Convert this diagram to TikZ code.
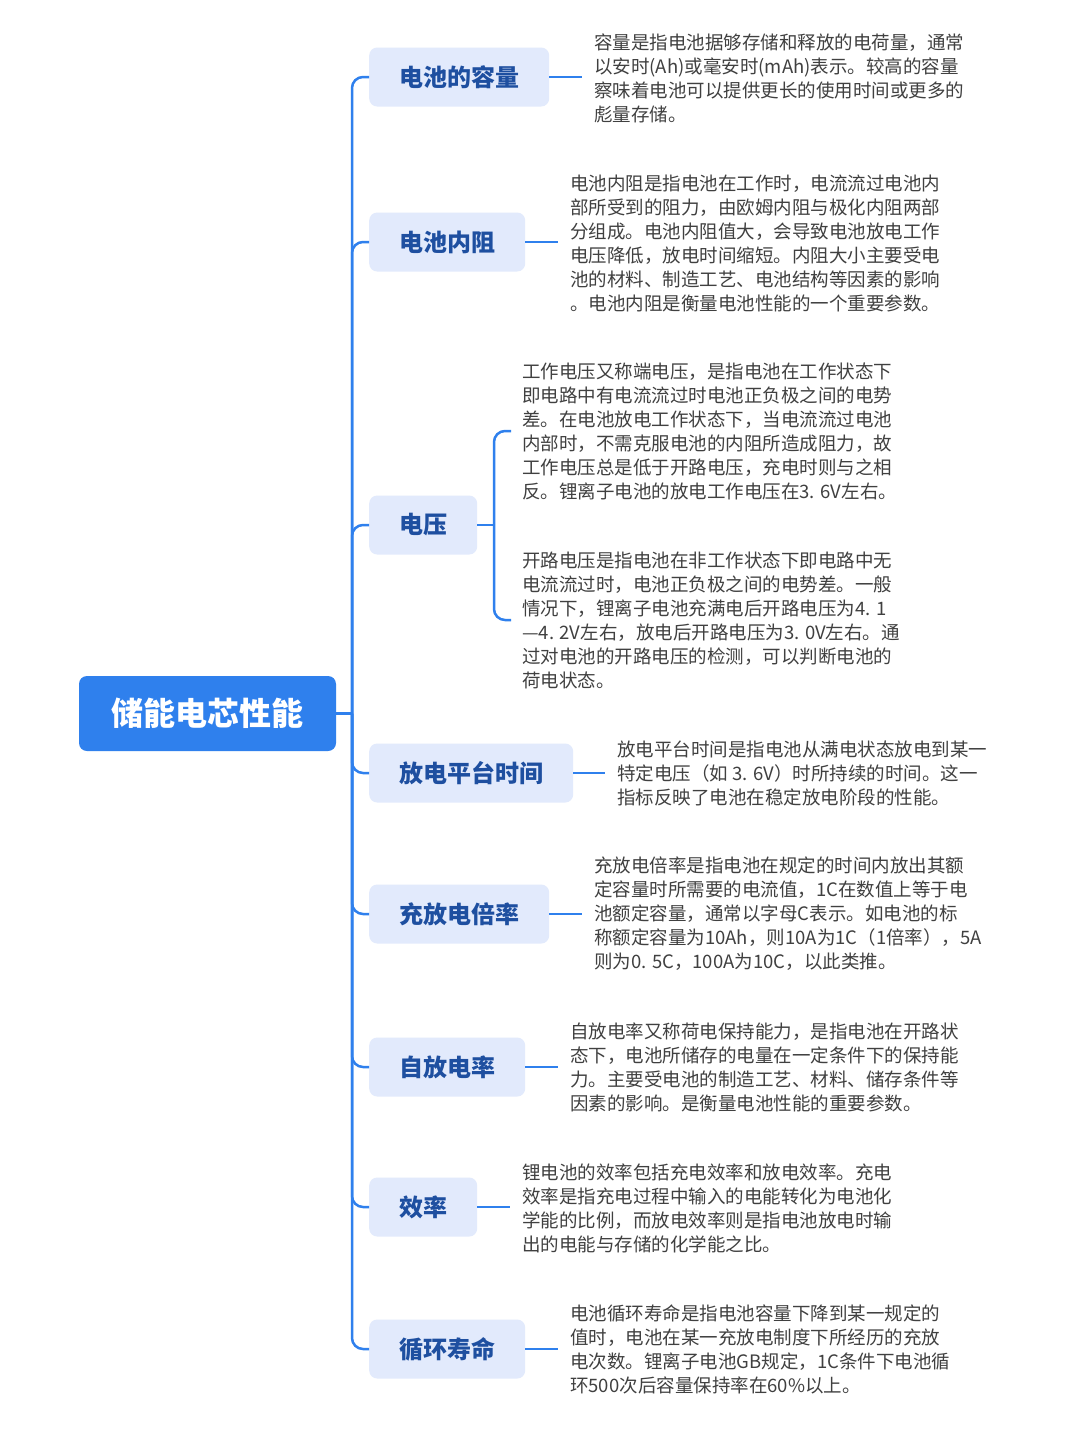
\documentclass[tikz,border=0pt]{standalone}
\usepackage{fontspec}
\setmainfont{Noto Sans CJK SC}
\definecolor{lineblue}{HTML}{2F80ED}
\definecolor{rootblue}{HTML}{2F80ED}
\definecolor{boxfill}{HTML}{E2EAFC}
\definecolor{boxtext}{HTML}{1E4FA0}
\definecolor{desc}{HTML}{404040}
\tikzset{
  rootbox/.style={fill=rootblue, rounded corners=8pt, minimum width=257pt, minimum height=75pt, text=white, font=\fontsize{32}{36}\selectfont\bfseries, inner sep=0pt},
  branchbox/.style={fill=boxfill, rounded corners=8pt, minimum height=59pt, inner xsep=30pt, inner ysep=0pt, text=boxtext, font=\fontsize{24}{28}\selectfont\bfseries, anchor=west},
  desctext/.style={anchor=west, align=left, inner sep=0pt, text=desc, font=\fontsize{18.5}{24}\selectfont},
  conn/.style={draw=lineblue, line width=2.5pt},
}
\begin{document}
\begin{tikzpicture}[x=1pt,y=-1pt]
\fill[white] (0,0) rectangle (1080,1436);
\useasboundingbox (0,0) rectangle (1080,1436);

\node[rootbox] (root) at (207.5,713.5) {储能电芯性能};
\coordinate (trunk) at (352,713.5);

\node[branchbox] (b1) at (369,77) {电池的容量};
\node[branchbox] (b2) at (369,242) {电池内阻};
\node[branchbox] (b3) at (369,525) {电压};
\node[branchbox] (b4) at (369,773) {放电平台时间};
\node[branchbox] (b5) at (369,914) {充放电倍率};
\node[branchbox] (b6) at (369,1067) {自放电率};
\node[branchbox] (b7) at (369,1207) {效率};
\node[branchbox] (b8) at (369,1349) {循环寿命};

\node[desctext] (t1) at (594,78) {容量是指电池据够存储和释放的电荷量，通常\\以安时(Ah)或毫安时(mAh)表示。较高的容量\\察味着电池可以提供更长的使用时间或更多的\\彪量存储。};
\node[desctext] (t2) at (570,243) {电池内阻是指电池在工作时，电流流过电池内\\部所受到的阻力，由欧姆内阻与极化内阻两部\\分组成。电池内阻值大，会导致电池放电工作\\电压降低，放电时间缩短。内阻大小主要受电\\池的材料、制造工艺、电池结构等因素的影响\\。电池内阻是衡量电池性能的一个重要参数。};
\node[desctext] (t3a) at (522,431) {工作电压又称端电压，是指电池在工作状态下\\即电路中有电流流过时电池正负极之间的电势\\差。在电池放电工作状态下，当电流流过电池\\内部时，不需克服电池的内阻所造成阻力，故\\工作电压总是低于开路电压，充电时则与之相\\反。锂离子电池的放电工作电压在3. 6V左右。};
\node[desctext] (t3b) at (522,620) {开路电压是指电池在非工作状态下即电路中无\\电流流过时，电池正负极之间的电势差。一般\\情况下，锂离子电池充满电后开路电压为4. 1\\—4. 2V左右，放电后开路电压为3. 0V左右。通\\过对电池的开路电压的检测，可以判断电池的\\荷电状态。};
\node[desctext] (t4) at (617,773) {放电平台时间是指电池从满电状态放电到某一\\特定电压（如 3. 6V）时所持续的时间。这一\\指标反映了电池在稳定放电阶段的性能。};
\node[desctext] (t5) at (594,914) {充放电倍率是指电池在规定的时间内放出其额\\定容量时所需要的电流值，1C在数值上等于电\\池额定容量，通常以字母C表示。如电池的标\\称额定容量为10Ah，则10A为1C（1倍率），5A\\则为0. 5C，100A为10C，以此类推。};
\node[desctext] (t6) at (570,1067) {自放电率又称荷电保持能力，是指电池在开路状\\态下，电池所储存的电量在一定条件下的保持能\\力。主要受电池的制造工艺、材料、储存条件等\\因素的影响。是衡量电池性能的重要参数。};
\node[desctext] (t7) at (522,1208) {锂电池的效率包括充电效率和放电效率。充电\\效率是指充电过程中输入的电能转化为电池化\\学能的比例，而放电效率则是指电池放电时输\\出的电能与存储的化学能之比。};
\node[desctext] (t8) at (570,1349) {电池循环寿命是指电池容量下降到某一规定的\\值时，电池在某一充放电制度下所经历的充放\\电次数。锂离子电池GB规定，1C条件下电池循\\环500次后容量保持率在60\%以上。};

% trunk
\draw[conn] (root.east) -- (trunk);
\foreach \b in {b1,b2,b3,b4,b5,b6,b7,b8}
  \draw[conn, rounded corners=11pt] (trunk) |- (\b.west);

% right connectors
\foreach \b/\t in {b1/t1,b2/t2,b4/t4,b5/t5,b6/t6,b7/t7,b8/t8}
  \draw[conn, shorten >=12pt] (\b.east) -- (\b.east -| \t.west);

% voltage bracket
\coordinate (vb) at (494,525);
\draw[conn] (b3.east) -- (vb);
\draw[conn, rounded corners=11pt] ([xshift=-11pt]t3a.west) -| (vb) |- ([xshift=-11pt]t3b.west);
\end{tikzpicture}
\end{document}
